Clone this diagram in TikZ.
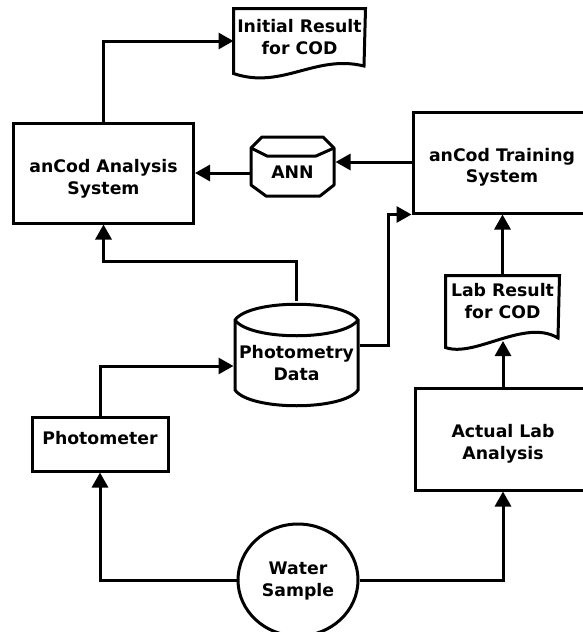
\documentclass[tikz,border=0pt]{standalone}
\usepackage{fontspec}
\setmainfont{DejaVu Sans}
\usetikzlibrary{arrows.meta,shapes.geometric,calc}
\begin{document}
\begin{tikzpicture}[x=1pt,y=-1pt, line width=3pt, line join=miter,
  box/.style={draw, rectangle, inner sep=0pt},
  area/.style={rectangle, inner sep=0pt},
  txt/.style={align=center, font=\bfseries\fontsize{17.3}{21.5}\selectfont, text=black, inner sep=0pt},
  arr/.style={-{Triangle[length=15pt,width=16pt]}}]
\useasboundingbox (0,0) rectangle (583,632);
\clip (0,0) rectangle (583,632);

% boxes
\node[box, minimum width=180pt, minimum height=100pt] (analysis) at (103.5,173) {};
\node[txt] (analysistext) at (103.5,179) {anCod Analysis\\System};
\node[box, minimum width=178pt, minimum height=101pt] (training) at (502,162.5) {};
\node[txt] (trainingtext) at (502,167.5) {anCod Training\\System};
\node[box, minimum width=176pt, minimum height=102pt] (actual) at (503,439) {};
\node[txt] (actualtext) at (503,444) {Actual Lab\\Analysis};
\node[box, minimum width=136pt, minimum height=54pt] (photometer) at (100,444) {};
\node[txt] (photometertext) at (100,438) {Photometer};
\node[draw, ellipse, inner sep=0pt, minimum width=120pt, minimum height=112pt] (water) at (298,580) {};
\node[txt] (watertext) at (298,581) {Water\\Sample};

% documents
\node[area, minimum width=129pt, minimum height=62pt] (initial) at (299.5,41) {};
\draw[fill=white] (initial.north west) -- (initial.north east) -- (364,66)
  .. controls (315,54) and (282,90) .. (initial.south west) -- cycle;
\node[txt] (initialtext) at (299.5,37) {Initial Result\\for COD};

\node[area, minimum width=111pt, minimum height=69pt] (lab) at (502.5,311.5) {};
\draw[fill=white] (lab.north west) -- (lab.north east) -- (558,338)
  .. controls (525,318) and (475,358) .. (lab.south west) -- cycle;
\node[txt] (labtext) at (502.5,301) {Lab Result\\for COD};
\coordinate (labtip) at (503,341);

% ANN store
\node[area, minimum width=83pt, minimum height=61pt] (ann) at (292.5,166.5) {};
\draw[fill=white, line join=round] (251,148) -- (262,137) -- (323,137) -- (334,148) -- (334,185)
  -- (320,196) -- (266,196) -- (251,185) -- cycle;
\draw[line join=round] (251,148) -- (267,156) -- (316,156) -- (334,148);
\node[txt] (anntext) at (292.5,172) {ANN};

% Photometry data cylinder
\node[area, minimum width=123pt, minimum height=105pt] (photometry) at (296.5,354.5) {};
\draw[fill=white] (235,320) .. controls (250,299) and (343,299) .. (358,320) -- (358,390)
  .. controls (343,411) and (250,411) .. (235,390) -- cycle;
\draw (235,320) .. controls (250,341) and (343,341) .. (358,320);
\node[txt] (photometrytext) at (296.5,363) {Photometry\\Data};

% connectors
\draw[arr] (analysis.north) |- (initial.west);
\draw[arr] (training.west |- 0,162) -- (ann.east |- 0,162);
\draw[arr] (ann.west |- analysis.east) -- (analysis.east);
\draw[arr] (photometry.north) -- ++(0,-39) -| (analysis.south);
\draw[arr] (photometry.east |- 0,345) -- ++(29,0) |- (training.south west);
\draw[arr] (lab.north) -- (lab.north |- training.south);
\draw[arr] (actual.north) -- (labtip);
\draw[arr] (photometer.north) |- (photometry.west |- 0,366);
\draw[arr] (water.west) -| (photometer.south);
\draw[arr] (water.east) -| (actual.south);
\end{tikzpicture}
\end{document}
